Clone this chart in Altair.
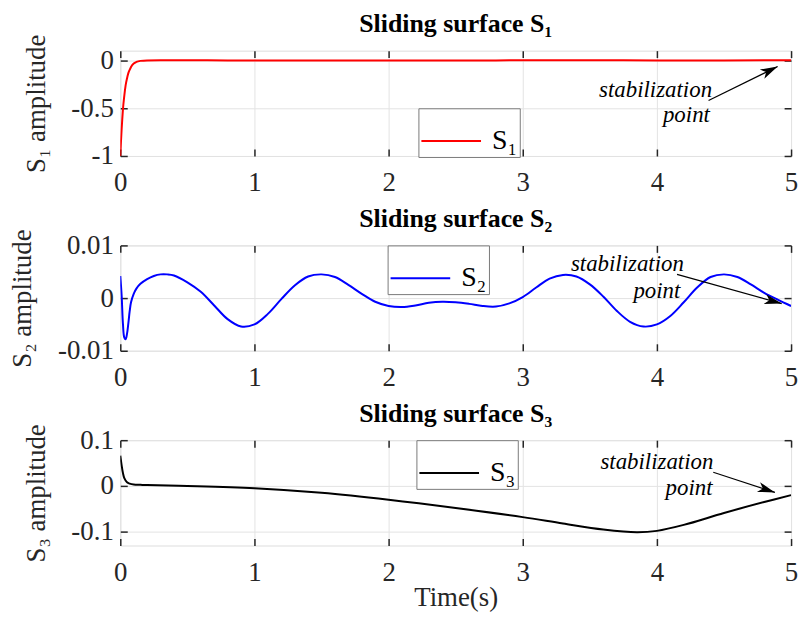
import altair as alt
import pandas as pd

FONT = "Liberation Serif, Times New Roman, serif"
XTICKS = [0, 1, 2, 3, 4, 5]

# ---- S1 ----
t1 = [0, 0.005, 0.01, 0.015, 0.02, 0.03, 0.04, 0.05, 0.06, 0.07, 0.08, 0.1, 0.12, 0.15, 0.2, 0.3, 0.5,
      0.8, 1.0, 1.5, 1.8, 2.0, 2.2, 2.5, 2.8, 3.0, 3.5, 4.0, 4.5, 5.0]
s1 = [-1, -0.85, -0.72, -0.61, -0.51, -0.37, -0.26, -0.19, -0.135, -0.10, -0.07, -0.035, -0.018, -0.007,
      -0.002, -0.001, -0.001, -0.002, -0.002, -0.003, -0.004, -0.004, -0.003, -0.002, -0.002, -0.001,
      -0.001, -0.002, -0.002, -0.001]

# ---- S2 ----
t2 = [0, 0.01, 0.02, 0.03, 0.04, 0.05, 0.06, 0.07, 0.08, 0.1, 0.12, 0.15, 0.2, 0.25, 0.3, 0.35, 0.4,
      0.5, 0.6, 0.7, 0.8, 0.9, 1.0, 1.1, 1.2, 1.3, 1.4, 1.5, 1.6, 1.7, 1.8, 1.9, 2.0, 2.1, 2.2, 2.3,
      2.4, 2.5, 2.6, 2.7, 2.8, 2.9, 3.0, 3.1, 3.2, 3.3, 3.4, 3.5, 3.6, 3.7, 3.8, 3.9, 4.0, 4.1, 4.2,
      4.3, 4.4, 4.5, 4.6, 4.7, 4.8, 4.9, 5.0]
s2 = [0.0042, 0.0005, -0.005, -0.0075, -0.0078, -0.0068, -0.0048, -0.0025, -0.0008, 0.0008, 0.0018,
      0.0027, 0.0036, 0.0042, 0.0045, 0.0045, 0.0043,
      0.0030, 0.0012, -0.0014, -0.0040, -0.0054, -0.0050, -0.0030, -0.0002, 0.0024, 0.0041, 0.0045,
      0.0040, 0.0025, 0.0008, -0.0007, -0.0015, -0.0017, -0.0014, -0.0009, -0.0007, -0.0008, -0.0011,
      -0.0015, -0.0016, -0.0010, 0.0002, 0.0020, 0.0037, 0.0044, 0.0041, 0.0026, 0.0003, -0.0024,
      -0.0045, -0.0054, -0.0050, -0.0034, -0.0008, 0.0020, 0.0040, 0.0045, 0.0040, 0.0026, 0.0010,
      -0.0003, -0.0015]

# ---- S3 ----
t3 = [0, 0.01, 0.02, 0.03, 0.05, 0.07, 0.1, 0.15, 0.2, 0.5, 1.0, 1.5, 2.0, 2.5, 3.0, 3.3, 3.6, 3.85,
      4.0, 4.2, 4.5, 4.8, 5.0]
s3 = [0.066, 0.045, 0.028, 0.017, 0.008, 0.005, 0.003, 0.0025, 0.002, 0.0, -0.005, -0.015, -0.030,
      -0.048, -0.068, -0.082, -0.095, -0.101, -0.098, -0.085, -0.059, -0.035, -0.020]

# annotations: label positions, arrow (t0, v0, t1, v1), arrow-head angle
ann = {
    1: dict(lab=(3.99, -0.315), pt=(4.22, -0.575), arrow=(4.385, -0.42, 4.9, -0.066), angle=64),
    2: dict(lab=(3.78, 0.0064), pt=(4.0, 0.0014), arrow=(4.15, 0.0045, 4.93, -0.00105), angle=105),
    3: dict(lab=(4.0, 0.052), pt=(4.24, -0.0055), arrow=(4.42, 0.030, 4.88, -0.014), angle=108),
}

W, H = 675, 106
ARROW = "M0,0L-0.5,1.7L0,1.25L0.5,1.7Z"
LBL = "replace(format(datum.value, '~g'), '\u2212', '-')"


def panel(idx, t, v, label, color, ydom, yticks, title, ytitle, lx, ly, xtitle, interp):
    df = pd.DataFrame({"t": t, "v": v, "series": [label] * len(t)})
    xs = alt.Scale(domain=[0, 5], nice=False, zero=False)
    ys = alt.Scale(domain=ydom, nice=False, zero=False)
    tick_ax = dict(offset=-7, tickSize=7, tickColor="#262626", tickWidth=1.5, domain=False)
    lab_ax = dict(labelFont=FONT, labelFontSize=27, labelColor="#262626",
                  titleFont=FONT, titleFontSize=27, titleFontWeight="normal", titleColor="#262626")
    xb = dict(tick_ax, **lab_ax, values=XTICKS, orient="bottom", grid=True, gridColor="#e3e3e3",
              labelPadding=14, labelFlush=False, titlePadding=-1, labelExpr=LBL)
    if xtitle:
        xaxis = alt.Axis(title=xtitle, **xb)
    else:
        xaxis = alt.Axis(title=None, **xb)
    yaxis = alt.Axis(title=ytitle, values=yticks, orient="left", grid=True, gridColor="#e3e3e3",
                     labelPadding=7, labelFlush=False, titlePadding=21, labelExpr=LBL,
                     **tick_ax, **lab_ax)
    main = alt.Chart(df).mark_line(strokeWidth=2, interpolate=interp, clip=True).encode(
        x=alt.X("t:Q", scale=xs, axis=xaxis),
        y=alt.Y("v:Q", scale=ys, axis=yaxis),
        color=alt.Color("series:N", scale=alt.Scale(domain=[label], range=[color]),
                        legend=alt.Legend(title=None, orient="none", legendX=lx, legendY=ly,
                                          symbolType="stroke", symbolSize=3600,
                                          symbolStrokeWidth=2, labelFont=FONT,
                                          labelFontSize=28, labelColor="#000000",
                                          strokeColor="#7a7a7a", fillColor="white",
                                          padding=2, cornerRadius=0, labelOffset=10)),
    )
    ghost_x = alt.Axis(title=None, values=XTICKS, orient="top", grid=False, labels=False, **tick_ax)
    ghost_y = alt.Axis(title=None, values=yticks, orient="right", grid=False, labels=False, **tick_ax)
    ghost = alt.Chart(df).mark_line(opacity=0).encode(
        x=alt.X("t:Q", scale=xs, axis=ghost_x),
        y=alt.Y("v:Q", scale=ys, axis=ghost_y),
    )
    a = ann[idx]
    tdf = pd.DataFrame({"t": [a["lab"][0], a["pt"][0]], "v": [a["lab"][1], a["pt"][1]],
                        "txt": ["stabilization", "point"]})
    text = alt.Chart(tdf).mark_text(font=FONT, fontSize=23, fontStyle="italic", color="#000000",
                                    align="center", baseline="middle").encode(
        x=alt.X("t:Q", scale=xs, axis=None), y=alt.Y("v:Q", scale=ys, axis=None), text="txt:N")
    adf = pd.DataFrame({"t0": [a["arrow"][0]], "v0": [a["arrow"][1]],
                        "t1": [a["arrow"][2]], "v1": [a["arrow"][3]]})
    shaft = alt.Chart(adf).mark_rule(color="#000000", strokeWidth=1.2).encode(
        x=alt.X("t0:Q", scale=xs, axis=None), y=alt.Y("v0:Q", scale=ys, axis=None),
        x2="t1:Q", y2="v1:Q")
    head = alt.Chart(adf).mark_point(shape=ARROW, filled=True, color="#000000", opacity=1,
                                     size=420, angle=a["angle"]).encode(
        x=alt.X("t1:Q", scale=xs, axis=None), y=alt.Y("v1:Q", scale=ys, axis=None))
    return alt.layer(main, ghost, text, shaft, head).resolve_axis(
        x="independent", y="independent").properties(
        width=W, height=H,
        title=alt.TitleParams(title, font=FONT, fontSize=26, fontWeight="bold", color="#000000",
                              anchor="middle", frame="group", offset=-3))


p1 = panel(1, t1, s1, "S\u2081", "#ff0000", [-1, 0.1], [-1, -0.5, 0], "Sliding surface S\u2081",
           "S\u2081 amplitude", 300, 58, None, "monotone")
p2 = panel(2, t2, s2, "S\u2082", "#0000ff", [-0.01, 0.01], [-0.01, 0, 0.01], "Sliding surface S\u2082",
           "S\u2082 amplitude", 269, 0, None, "catmull-rom")
p3 = panel(3, t3, s3, "S\u2083", "#000000", [-0.13, 0.1], [-0.1, 0, 0.1], "Sliding surface S\u2083",
           "S\u2083 amplitude", 298, 0, "Time(s)", "catmull-rom")

chart = alt.vconcat(p1, p2, p3, spacing=90, bounds="flush").resolve_scale(
    color="independent", x="independent", y="independent").configure_view(
    stroke="#262626", strokeWidth=1.5).configure(
    padding={"left": 0, "top": 0, "right": 2, "bottom": 0}, background="white", font=FONT)

chart.save("out.html", embed_options={"renderer": "svg", "actions": False})
